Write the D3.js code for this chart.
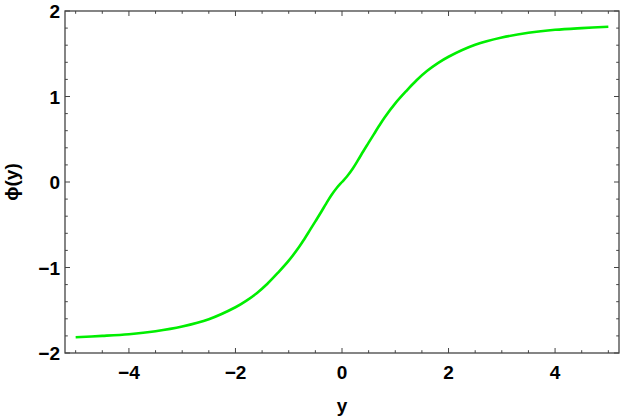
<!DOCTYPE html>
<html>
<head>
<meta charset="utf-8">
<script src="https://cdn.jsdelivr.net/npm/d3@7"></script>
<style>
  body { margin: 0; background: #fff; }
  text { font-family: "Liberation Sans", Arial, sans-serif; font-weight: bold; fill: #000; }
</style>
</head>
<body>
<div id="chart"></div>
<script>
// Curve values
let yVals = [-5, -4.5, -4, -3.5, -3, -2.5, -2, -1.8, -1.6, -1.4, -1.2, -1, -0.8, -0.7, -0.6, -0.5, -0.4, -0.3, -0.2, -0.1, 0,
             0.1, 0.2, 0.3, 0.4, 0.5, 0.6, 0.7, 0.8, 1, 1.2, 1.4, 1.6, 1.8, 2, 2.5, 3, 3.5, 4, 4.5, 5];
let phiVals = [-1.815, -1.80, -1.78, -1.745, -1.69, -1.605, -1.465, -1.39, -1.30, -1.19, -1.06, -0.92, -0.755, -0.66, -0.56, -0.46, -0.36, -0.255, -0.155, -0.07, 0,
               0.07, 0.155, 0.255, 0.36, 0.46, 0.56, 0.66, 0.755, 0.92, 1.06, 1.19, 1.30, 1.39, 1.465, 1.605, 1.69, 1.745, 1.78, 1.80, 1.815];

// Tick labels
let xTicks = [-4, -2, 0, 2, 4];
let yTicks = [-2, -1, 0, 1, 2];

let m = { t: 11, r: 6, b: 65, l: 65 };
let W = 625, H = 418;
let w = W - m.l - m.r;
let h = H - m.t - m.b;

let x = d3.scaleLinear().domain([-5.2, 5.2]).range([0, w]);
let y = d3.scaleLinear().domain([-2, 2]).range([h, 0]);

let svg = d3.select("#chart").append("svg")
    .attr("width", W)
    .attr("height", H);

let s = svg.append("g")
    .attr("transform", "translate(" + m.l + "," + m.t + ")");

// Minor ticks
let xMinor = d3.range(-5, 5.01, 0.5).filter(function (v) { return xTicks.indexOf(v) < 0; });
let yMinor = d3.range(-2, 2.01, 0.2).map(function (v) { return Math.round(v * 10) / 10; })
    .filter(function (v) { return yTicks.indexOf(v) < 0; });

let tickColor = "#444";
let major = 5, minor = 2.8;

// bottom and top ticks
[[h, -1], [0, 1]].forEach(function (side) {
    s.selectAll(null).data(xTicks.concat(xMinor)).enter().append("line")
        .attr("x1", function (d) { return x(d); })
        .attr("x2", function (d) { return x(d); })
        .attr("y1", side[0])
        .attr("y2", function (d) { return side[0] + side[1] * (xTicks.indexOf(d) >= 0 ? major : minor); })
        .attr("stroke", tickColor)
        .attr("stroke-width", 1);
});

// left and right ticks
[[0, 1], [w, -1]].forEach(function (side) {
    s.selectAll(null).data(yTicks.concat(yMinor)).enter().append("line")
        .attr("y1", function (d) { return y(d); })
        .attr("y2", function (d) { return y(d); })
        .attr("x1", side[0])
        .attr("x2", function (d) { return side[0] + side[1] * (yTicks.indexOf(d) >= 0 ? major : minor); })
        .attr("stroke", tickColor)
        .attr("stroke-width", 1);
});

// frame
s.append("rect")
    .attr("x", 0).attr("y", 0)
    .attr("width", w).attr("height", h)
    .attr("fill", "none")
    .attr("stroke", tickColor)
    .attr("stroke-width", 1.3);

// tick labels
s.selectAll("text.xl").data(xTicks).enter().append("text")
    .attr("class", "xl")
    .attr("x", function (d) { return x(d); })
    .attr("y", h + 26)
    .attr("text-anchor", "middle")
    .attr("font-size", 19)
    .text(function (d) { return d < 0 ? "\u2212" + (-d) : d; });

s.selectAll("text.yl").data(yTicks).enter().append("text")
    .attr("class", "yl")
    .attr("x", -5)
    .attr("y", function (d) { return y(d) + 7; })
    .attr("text-anchor", "end")
    .attr("font-size", 19)
    .text(function (d) { return d < 0 ? "\u2212" + (-d) : d; });

// axis titles
svg.append("text")
    .attr("x", m.l + x(0))
    .attr("y", 412)
    .attr("text-anchor", "middle")
    .attr("font-size", 19)
    .text("y");

svg.append("text")
    .attr("transform", "translate(18,182) rotate(-90)")
    .attr("text-anchor", "middle")
    .attr("font-size", 19)
    .text("\u03d5(y)");

// curve
let pts = yVals.map(function (v, i) { return [v, phiVals[i]]; });
let line = d3.line()
    .x(function (d) { return x(d[0]); })
    .y(function (d) { return y(d[1]); })
    .curve(d3.curveCatmullRom);

s.append("path")
    .datum(pts)
    .attr("d", line)
    .attr("fill", "none")
    .attr("stroke", "#00ee00")
    .attr("stroke-width", 2.6);
</script>
</body>
</html>
